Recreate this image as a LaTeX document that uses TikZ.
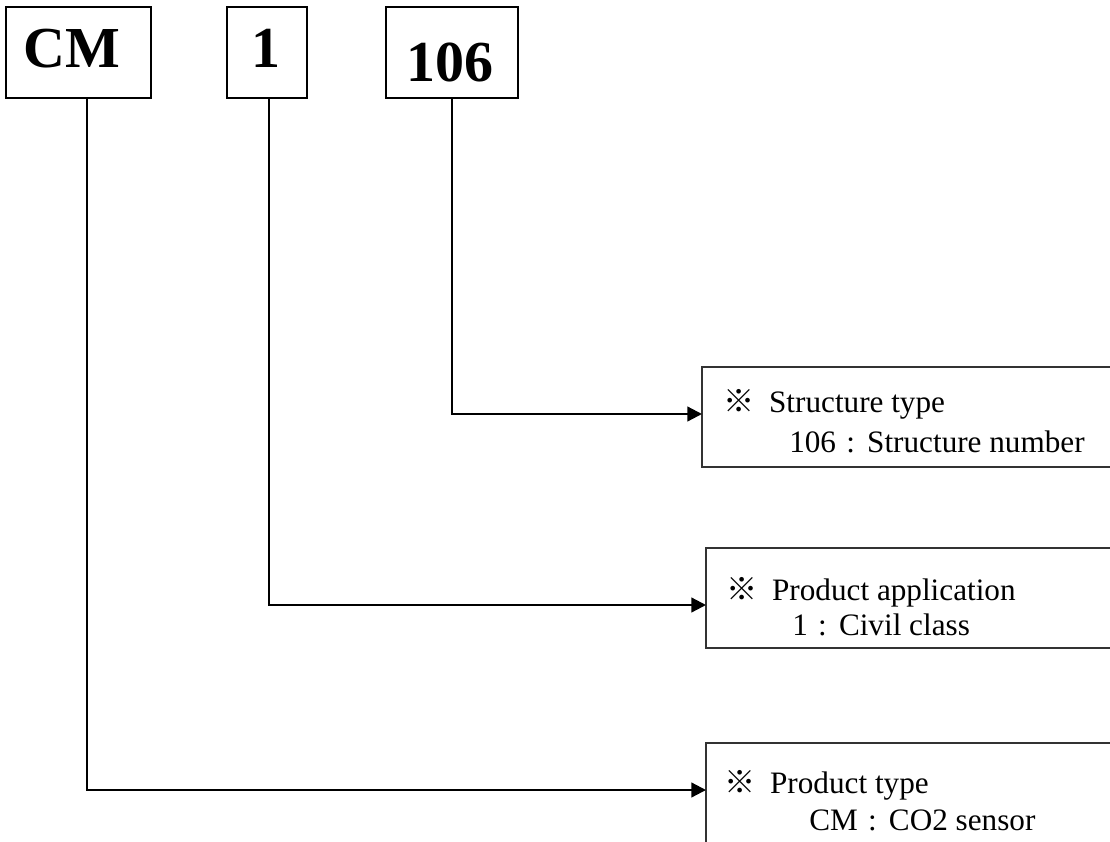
\documentclass[tikz,border=0pt]{standalone}
\usepackage{fontspec}
\setmainfont{Liberation Serif}
\newfontfamily\cjk{Noto Sans CJK TC}
\usetikzlibrary{arrows.meta}
\newcommand{\wcolon}{\hspace{0.33em}:\hspace{0.39em}}
\begin{document}
\begin{tikzpicture}[x=0.75pt,y=-0.75pt,
  topbox/.style={draw, line width=1.6pt, inner sep=0pt, outer sep=0pt},
  toptext/.style={anchor=base west, inner sep=0pt, font=\fontsize{43.5pt}{50pt}\selectfont\bfseries},
  infobox/.style={draw=black!80, line width=1pt, inner sep=0pt, outer sep=0pt},
  infotext/.style={anchor=base west, inner sep=0pt, font=\fontsize{23.4pt}{28pt}\selectfont},
  conn/.style={line width=1.7pt, -{Triangle[length=11pt,width=11pt]}}]
\useasboundingbox (0,0) rectangle (1110,842);
\clip (0,0) rectangle (1110,842);
% top code boxes
\node[topbox, minimum width=108.75pt, minimum height=68.25pt] (cm) at (78.5,52.5) {};
\node[topbox, minimum width=60pt, minimum height=68.25pt] (one) at (267,52.5) {};
\node[topbox, minimum width=99pt, minimum height=68.25pt] (num) at (452,52.5) {};
\node[toptext] (cmt) at (23,68) {CM};
\node[toptext] (onet) at (251,68) {1};
\node[toptext] (numt) at (406,82) {106};
% explanation boxes (open to the right)
\node[infobox, minimum width=345pt, minimum height=75pt] (stype) at (932,417) {};
\node[infobox, minimum width=345pt, minimum height=75pt] (papp) at (936,598) {};
\node[infobox, minimum width=345pt, minimum height=102.75pt] (ptype) at (936,811.5) {};
\node[infotext] (s1) at (723,412) {{\cjk ※}\hspace{11pt}Structure type};
\node[infotext] (s2) at (789,452) {106\wcolon Structure number};
\node[infotext] (a1) at (726,600) {{\cjk ※}\hspace{11pt}Product application};
\node[infotext] (a2) at (792,635) {1\wcolon Civil class};
\node[infotext] (t1) at (724,793) {{\cjk ※}\hspace{11pt}Product type};
\node[infotext] (t2) at (809,830) {CM\wcolon CO2 sensor};
% connectors
\draw[conn] (cm.south -| 87,0) |- (ptype.west |- 0,790);
\draw[conn] (one.south -| 269,0) |- (papp.west |- 0,605);
\draw[conn] (num.south) |- (stype.west |- 0,414);
\end{tikzpicture}
\end{document}
